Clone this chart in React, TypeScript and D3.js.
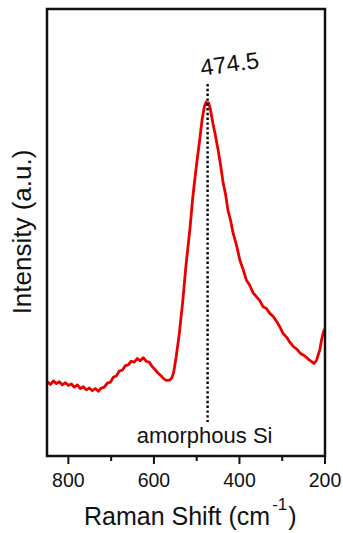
import * as d3 from "d3";

const WIDTH = 343;
const HEIGHT = 533;
const MARGIN = { top: 9, right: 18, bottom: 77, left: 47 };

const FONT = "'Liberation Sans', Arial, sans-serif";
const LINE_COLOR = "#e60000";

const X_DOMAIN = [850, 200];
const Y_DOMAIN = [0, 100];
const MAJOR_TICKS = [800, 600, 400, 200];
const MINOR_TICKS = [700, 500, 300];

const PEAK_POSITION = 474.5;
const PEAK_LABEL = "474.5";
const PHASE_LABEL = "amorphous Si";

// Raman shift (cm-1) and intensity (a.u.)
const SHIFT = [
  849, 842, 835, 828, 821, 814, 807, 800, 793, 786, 779, 772, 765, 758, 751,
  744, 737, 730, 723, 716, 709, 702, 695, 688, 681, 674, 667, 660, 653, 646,
  639, 632, 625, 618, 611, 604, 597, 590, 583, 576, 570, 563, 558, 554, 548,
  541, 533, 525, 516, 509, 501, 493, 487, 482, 478, 475, 472, 468, 462, 456,
  450, 444, 438, 432, 427, 421, 415, 407, 399, 392, 384, 376, 368, 360, 352,
  345, 337, 329, 321, 313, 305, 298, 290, 282, 274, 266, 258, 251, 244, 237,
  231, 226, 223, 219, 216, 212, 208, 204, 201,
];
const INTENSITY = [
  16.6, 16.0, 16.8, 16.2, 16.6, 15.9, 16.4, 15.8, 16.1, 15.4, 15.9, 15.1,
  15.5, 14.8, 15.2, 14.6, 15.1, 14.5, 15.2, 15.4, 16.3, 16.5, 17.6, 17.9,
  19.0, 19.2, 20.2, 20.4, 21.2, 21.0, 21.8, 21.3, 22.0, 21.2, 21.0, 20.0,
  19.3, 18.5, 17.9, 17.2, 16.9, 17.0, 17.5, 18.6, 22.2, 27.1, 34.2, 42.7,
  50.6, 58.0, 64.7, 70.7, 75.5, 78.2, 79.2, 78.6, 79.0, 77.6, 74.4, 71.6,
  68.5, 65.0, 61.0, 58.3, 55.0, 52.8, 49.9, 47.2, 43.8, 41.9, 39.4, 38.2,
  36.5, 35.6, 34.7, 33.4, 33.0, 31.9, 31.2, 30.1, 28.8, 27.4, 26.6, 25.4,
  24.5, 23.9, 23.0, 22.6, 22.1, 21.5, 21.1, 20.7, 21.0, 21.6, 22.6, 23.8,
  26.0, 27.6, 28.4,
];

export default function App() {
  const x = d3
    .scaleLinear()
    .domain(X_DOMAIN)
    .range([MARGIN.left, WIDTH - MARGIN.right]);
  const y = d3
    .scaleLinear()
    .domain(Y_DOMAIN)
    .range([HEIGHT - MARGIN.bottom, MARGIN.top]);

  const points = SHIFT.map((s, i) => [s, INTENSITY[i]] as [number, number]);
  const line = d3
    .line<[number, number]>()
    .x((d) => x(d[0]))
    .y((d) => y(d[1]));

  const bottom = HEIGHT - MARGIN.bottom;
  const peakX = x(PEAK_POSITION);

  return (
    <svg
      width={WIDTH}
      height={HEIGHT}
      style={{ position: "absolute", left: 0, top: 0, background: "#fff" }}
      fontFamily={FONT}
    >
      <defs>
        <clipPath id="plot">
          <rect
            x={MARGIN.left}
            y={MARGIN.top}
            width={WIDTH - MARGIN.left - MARGIN.right}
            height={bottom - MARGIN.top}
          />
        </clipPath>
      </defs>

      {/* spectrum */}
      <path
        d={line(points) ?? ""}
        fill="none"
        stroke={LINE_COLOR}
        strokeWidth={2.8}
        strokeLinejoin="round"
        clipPath="url(#plot)"
      />

      {/* peak marker */}
      <line
        x1={peakX}
        x2={peakX}
        y1={84}
        y2={422}
        stroke="#000"
        strokeWidth={2.4}
        strokeDasharray="2.4,2.4"
      />
      <text
        transform={`translate(${peakX - 6},76) rotate(-8)`}
        fontSize={23.5}
        fill="#111"
      >
        {PEAK_LABEL}
      </text>
      <text x={peakX - 3} y={443} textAnchor="middle" fontSize={22} fill="#111">
        {PHASE_LABEL}
      </text>

      {/* frame */}
      <rect
        x={MARGIN.left}
        y={MARGIN.top}
        width={WIDTH - MARGIN.left - MARGIN.right}
        height={bottom - MARGIN.top}
        fill="none"
        stroke="#111"
        strokeWidth={2.5}
      />

      {/* x ticks */}
      {MAJOR_TICKS.map((t) => (
        <g key={t}>
          <line
            x1={x(t)}
            x2={x(t)}
            y1={bottom}
            y2={bottom + 8}
            stroke="#111"
            strokeWidth={2}
          />
          <text
            x={x(t)}
            y={bottom + 31}
            textAnchor="middle"
            fontSize={19.5}
            fill="#111"
          >
            {t}
          </text>
        </g>
      ))}
      {MINOR_TICKS.map((t) => (
        <line
          key={t}
          x1={x(t)}
          x2={x(t)}
          y1={bottom}
          y2={bottom + 5}
          stroke="#111"
          strokeWidth={2}
        />
      ))}

      {/* axis titles */}
      <text x={84} y={525} fontSize={25} fill="#111">
        Raman Shift (cm
        <tspan dx={2} dy={-15} fontSize={17}>
          -1
        </tspan>
        <tspan dx={1} dy={15}>
          )
        </tspan>
      </text>
      <text
        transform={`translate(31,232) rotate(-90)`}
        textAnchor="middle"
        fontSize={26}
        fill="#111"
      >
        Intensity (a.u.)
      </text>
    </svg>
  );
}
